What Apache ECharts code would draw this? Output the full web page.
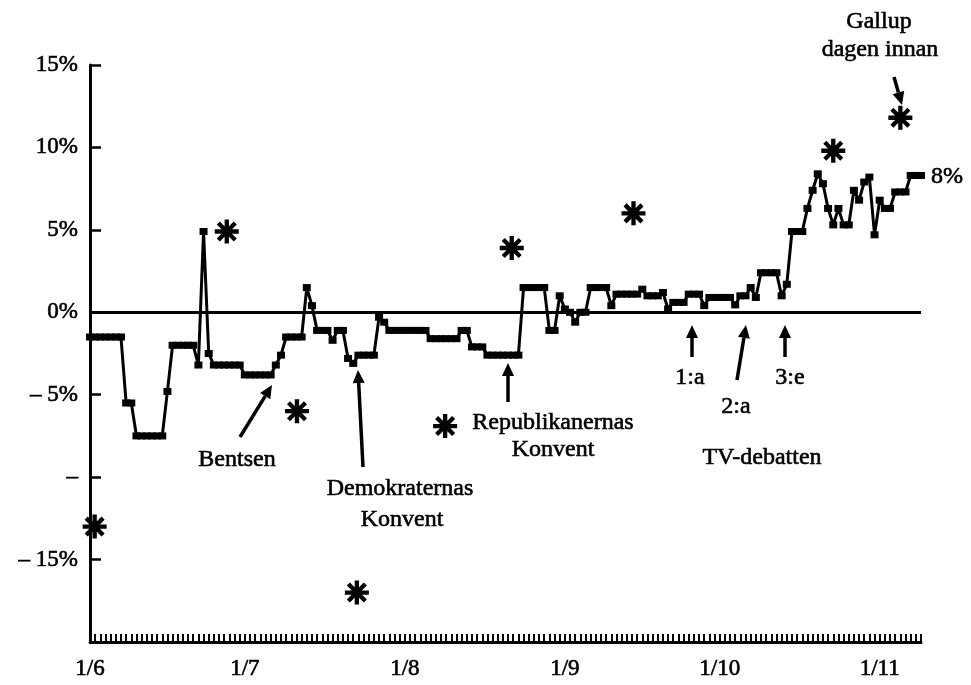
<!DOCTYPE html>
<html><head><meta charset="utf-8">
<script src="https://cdn.jsdelivr.net/npm/echarts@6/dist/echarts.min.js"></script>
<style>html,body{margin:0;padding:0;background:#fff}#c{width:971px;height:685px}</style>
</head><body><div id="c"></div>
<script>
// x = day index counted from 1 June 1988
const monthStartDays = [0, 30, 61, 92, 122, 153];
const monthLabels = ['1/6', '1/7', '1/8', '1/9', '1/10', '1/11'];
const yTickValues = [15, 10, 5, 0, -5, -10, -15, -20];
const yTickLabels = ['15%', '10%', '5%', '0%', '– 5%', '–', '– 15%', ''];

// daily lead (percentage points), days 0..161
const pollLead = [
  -1.5,-1.5,-1.5,-1.5,-1.5,-1.5,-1.5,
  -5.5,-5.5,
  -7.5,-7.5,-7.5,-7.5,-7.5,-7.5,
  -4.8,
  -2.0,-2.0,-2.0,-2.0,-2.0,
  -3.2, 4.9,-2.5,
  -3.2,-3.2,-3.2,-3.2,-3.2,-3.2,
  -3.8,-3.8,-3.8,-3.8,-3.8,-3.8,
  -3.2,-2.6,
  -1.5,-1.5,-1.5,-1.5,
  1.5, 0.4,
  -1.1,-1.1,-1.1,-1.7,-1.1,-1.1,
  -2.8,-3.1,
  -2.6,-2.6,-2.6,-2.6,
  -0.3,-0.6,
  -1.1,-1.1,-1.1,-1.1,-1.1,-1.1,-1.1,-1.1,
  -1.6,-1.6,-1.6,-1.6,-1.6,-1.6,
  -1.1,-1.1,
  -2.1,-2.1,-2.1,
  -2.6,-2.6,-2.6,-2.6,-2.6,-2.6,-2.6,
  1.5, 1.5, 1.5, 1.5, 1.5,
  -1.1,-1.1, 1.0, 0.2, 0.0,-0.6, 0.0, 0.0,
  1.5, 1.5, 1.5, 1.5,
  0.4, 1.1, 1.1, 1.1, 1.1, 1.1, 1.4, 1.0, 1.0, 1.0, 1.2, 0.2,
  0.6, 0.6, 0.6, 1.1, 1.1, 1.1, 0.4,
  0.9, 0.9, 0.9, 0.9, 0.9, 0.45, 1.0, 1.0, 1.5, 0.9,
  2.4, 2.4, 2.4, 2.4, 1.0, 1.7,
  4.9, 4.9, 4.9, 6.3, 7.4, 8.4, 7.8, 6.3, 5.3, 6.3, 5.3, 5.3,
  7.4, 6.8, 7.9, 8.2, 4.7, 6.8, 6.3, 6.3, 7.3, 7.3, 7.3, 8.3, 8.3, 8.3
];

// Gallup polls (asterisks)
const gallupDays = [0.9, 26.5, 40.1, 51.7, 68.8, 81.7, 105.3, 144.0, 157.0];
const gallupValues = [-13.0, 4.9, -6.0, -17.0, -6.9, 3.9, 6.0, 9.8, 11.8];

const FONT = '"Liberation Serif","Times New Roman",serif';

function asteriskPath() {
  const L = 50, w = 9, c = 50;
  let p = '';
  for (const deg of [0, 45, 90, 135]) {
    const a = deg * Math.PI / 180, dx = Math.cos(a), dy = Math.sin(a), px = -dy, py = dx;
    const pts = [[c + dx*L + px*w, c + dy*L + py*w], [c - dx*L + px*w, c - dy*L + py*w],
                 [c - dx*L - px*w, c - dy*L - py*w], [c + dx*L - px*w, c + dy*L - py*w]];
    p += 'M' + pts.map(q => q[0].toFixed(2) + ' ' + q[1].toFixed(2)).join(' L') + ' Z ';
  }
  return 'path://' + p;
}

function arrow(x1, y1, x2, y2) {
  const dx = x2 - x1, dy = y2 - y1, len = Math.hypot(dx, dy), ux = dx/len, uy = dy/len;
  const hl = 13, hw = 6, bx = x2 - ux*hl, by = y2 - uy*hl;
  return [
    {type:'line', shape:{x1:x1, y1:y1, x2:bx, y2:by}, style:{stroke:'#000', lineWidth:3.5}},
    {type:'polygon', shape:{points:[[x2,y2],[bx - uy*hw, by + ux*hw],[bx + uy*hw, by - ux*hw]]}, style:{fill:'#000'}}
  ];
}
function txt(t, x, y, size) {
  return {type:'text', x:x, y:y, style:{text:t, font:(size||24)+'px ' + FONT, fill:'#000',
    stroke:'#000', lineWidth:0.6, align:'center', verticalAlign:'middle'}};
}

const lineData = pollLead.map((v, i) => [i, v]);
const scatterData = gallupDays.map((d, i) => [d, gallupValues[i]]);

const graphics = [].concat(
  arrow(240, 437, 272, 385),
  arrow(363, 467, 358, 370),
  arrow(508, 402, 508, 363),
  arrow(692, 357, 692, 325),
  arrow(737, 380, 746, 325),
  arrow(785, 357, 785, 325),
  arrow(894, 77, 902, 105),
  [
    txt('Bentsen', 237, 460),
    txt('Demokraternas', 400, 489),
    txt('Konvent', 402, 520),
    txt('Republikanernas', 553, 423),
    txt('Konvent', 553, 450),
    txt('1:a', 690, 378),
    txt('2:a', 736, 407),
    txt('3:e', 790, 378),
    txt('TV-debatten', 762, 458),
    txt('Gallup', 879, 22),
    txt('dagen innan', 880, 50),
    txt('8%', 947, 177)
  ]
);

const chart = echarts.init(document.getElementById('c'));
chart.setOption({
  animation: false,
  backgroundColor: '#fff',
  grid: {left: 90, right: 50, top: 65, bottom: 43},
  xAxis: {
    type: 'value', min: 0, max: 161, interval: 1,
    axisLine: {onZero: false, lineStyle: {color: '#000', width: 3}},
    axisTick: {inside: true, length: 8, lineStyle: {color: '#000', width: 2}},
    axisLabel: {
      formatter: v => { const k = monthStartDays.indexOf(v); return k >= 0 ? monthLabels[k] : ''; },
      color: '#000', fontFamily: FONT, fontSize: 23, margin: 15,
      textBorderColor: '#000', textBorderWidth: 0.6
    },
    splitLine: {show: false}
  },
  yAxis: {
    type: 'value', min: -20, max: 15, interval: 5,
    axisLine: {show: true, onZero: false, lineStyle: {color: '#000', width: 3}},
    axisTick: {show: true, inside: true, length: 11, lineStyle: {color: '#000', width: 2.5}},
    axisLabel: {
      formatter: v => { const k = yTickValues.indexOf(v); return k >= 0 ? yTickLabels[k] : ''; },
      color: '#000', fontFamily: FONT, fontSize: 23, margin: 12,
      textBorderColor: '#000', textBorderWidth: 0.6
    },
    splitLine: {show: false}
  },
  series: [
    {
      type: 'line', data: lineData, symbol: 'rect', symbolSize: [8, 7], showAllSymbol: true,
      lineStyle: {color: '#000', width: 3}, itemStyle: {color: '#000', opacity: 1}, z: 3,
      markLine: {silent: true, symbol: 'none', label: {show: false}, animation: false,
        lineStyle: {color: '#000', width: 3, type: 'solid'}, data: [{yAxis: 0}]}
    },
    {
      type: 'scatter', data: scatterData, symbol: asteriskPath(), symbolSize: 24,
      itemStyle: {color: '#000', opacity: 1}, z: 4
    }
  ],
  graphic: graphics
});
</script>
</body></html>
